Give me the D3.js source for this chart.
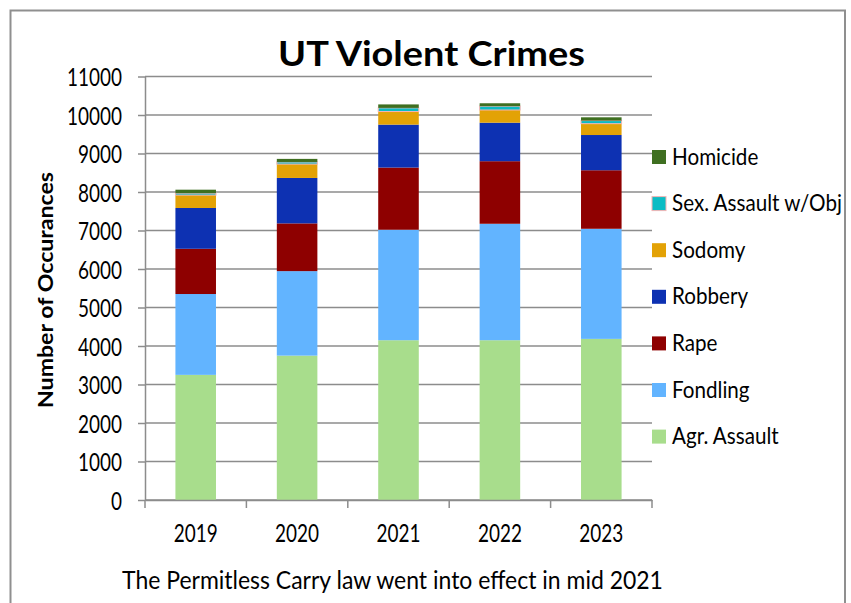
<!DOCTYPE html>
<html>
<head>
<meta charset="utf-8">
<script src="https://cdn.jsdelivr.net/npm/d3@7"></script>
<style>
  body { margin: 0; background: #fff; }
  svg { display: block; font-family: Lato, "Open Sans", sans-serif; }
</style>
</head>
<body>
<div id="chart"></div>
<script>
// values
const years = ["2019", "2020", "2021", "2022", "2023"];
const seriesNames = ["Agr. Assault", "Fondling", "Rape", "Robbery", "Sodomy", "Sex. Assault w/Obj", "Homicide"];
const agrAssault = [3250, 3750, 4150, 4150, 4185];
const fondling   = [2100, 2195, 2870, 3025, 2860];
const rape       = [1175, 1240, 1615, 1625, 1520];
const robbery    = [1060, 1180, 1115, 1000, 915];
const sodomy     = [335, 360, 340, 330, 295];
const sexAssault = [50, 55, 95, 100, 80];
const homicide   = [90, 80, 90, 75, 85];
const yTicks = [0, 1000, 2000, 3000, 4000, 5000, 6000, 7000, 8000, 9000, 10000, 11000];

const colors = ["#a8dd8c", "#62b4ff", "#8e0000", "#0d31b2", "#e3a206", "#0bbcc4", "#3f6f21"];

const W = 851, H = 603;
const plotLeft = 145, plotRight = 652, plotTop = 76.5, plotBottom = 500;
const GRID = "#8c8c8c";
const TICK_FONT = 25;
const LEGEND_FONT = 24;

// the original is squeezed horizontally, so text gets scaled in x
const squeeze = (sel, sx) => {
    const tx = +sel.attr("x") || 0, ty = +sel.attr("y") || 0;
    sel.attr("x", 0).attr("y", 0)
       .attr("transform", `translate(${tx},${ty}) scale(${sx},1)`);
};
const fit = (sel, width) => squeeze(sel, width / sel.node().getComputedTextLength());

// ratio that makes a sample string as wide as in the picture
const ratioFor = (str, size, weight, width) => {
    const t = svg.append("text").attr("font-size", size).attr("font-weight", weight).text(str);
    const r = width / t.node().getComputedTextLength();
    t.remove();
    return r;
};

const svg = d3.select("#chart").append("svg")
    .attr("width", W)
    .attr("height", H);

svg.append("rect")
    .attr("x", 10.5).attr("y", 10.5)
    .attr("width", 834.5).attr("height", 620)
    .attr("fill", "none")
    .attr("stroke", "#8f8f8f")
    .attr("stroke-width", 2);

const x = d3.scaleBand()
    .domain(years)
    .range([plotLeft, plotRight])
    .paddingInner(0.6)
    .paddingOuter(0.3);

const y = d3.scaleLinear()
    .domain([0, 11000])
    .range([plotBottom, plotTop]);

// gridlines
svg.append("g")
    .selectAll("line")
    .data(yTicks)
    .enter().append("line")
    .attr("x1", plotLeft).attr("x2", plotRight)
    .attr("y1", d => y(d)).attr("y2", d => y(d))
    .attr("stroke", GRID)
    .attr("stroke-width", 1.5);

// stacked bars
const table = years.map((yr, i) => ({
    year: yr,
    "Agr. Assault": agrAssault[i],
    "Fondling": fondling[i],
    "Rape": rape[i],
    "Robbery": robbery[i],
    "Sodomy": sodomy[i],
    "Sex. Assault w/Obj": sexAssault[i],
    "Homicide": homicide[i]
}));
const stacked = d3.stack().keys(seriesNames)(table);

svg.append("g")
    .selectAll("g")
    .data(stacked)
    .enter().append("g")
    .attr("fill", (d, i) => colors[i])
    .attr("stroke", d => d.key === "Sex. Assault w/Obj" ? "#f4b4b4" : "none")
    .attr("stroke-width", 1)
    .selectAll("rect")
    .data(d => d)
    .enter().append("rect")
    .attr("x", d => x(d.data.year))
    .attr("width", x.bandwidth())
    .attr("y", d => y(d[1]))
    .attr("height", d => y(d[0]) - y(d[1]));

const tickRatio = ratioFor("11000", TICK_FONT, "normal", 55);

// y axis
const yAxis = svg.append("g")
    .attr("transform", `translate(${plotLeft},0)`)
    .call(d3.axisLeft(y).tickValues(yTicks).tickFormat(d3.format("d"))
        .tickSize(7).tickPadding(16).tickSizeOuter(0));
yAxis.select(".domain").attr("stroke", GRID).attr("stroke-width", 1.5);
yAxis.selectAll(".tick line").attr("stroke", GRID).attr("stroke-width", 1.5);
yAxis.selectAll(".tick text")
    .attr("font-family", "Lato").attr("font-size", TICK_FONT).attr("fill", "#000")
    .attr("dy", "0.36em")
    .each(function () { squeeze(d3.select(this), tickRatio); });

// x axis: labels under bars, ticks at category boundaries
const xAxis = svg.append("g")
    .attr("transform", `translate(0,${plotBottom})`)
    .call(d3.axisBottom(x).tickSize(0).tickSizeOuter(0));
xAxis.select(".domain").attr("stroke", GRID).attr("stroke-width", 1.5);
xAxis.selectAll(".tick text")
    .attr("font-family", "Lato").attr("font-size", TICK_FONT).attr("fill", "#000")
    .attr("dy", "0.36em")
    .attr("x", 0).attr("y", 0)
    .attr("transform", `translate(0,33) scale(${tickRatio},1)`);
const bounds = d3.scaleLinear().domain([0, years.length]).range([plotLeft, plotRight]);
xAxis.selectAll(".bound")
    .data(d3.range(years.length + 1))
    .enter().append("line")
    .attr("class", "bound")
    .attr("x1", d => bounds(d)).attr("x2", d => bounds(d))
    .attr("y1", 0).attr("y2", 8)
    .attr("stroke", GRID)
    .attr("stroke-width", 1.5);

// legend, top entry is the top of the stack
const legendRatio = ratioFor("Sex. Assault w/Obj", LEGEND_FONT, "normal", 170);
const legend = svg.append("g")
    .selectAll("g")
    .data(seriesNames.slice().reverse())
    .enter().append("g")
    .attr("transform", (d, i) => `translate(652,${164.5 + i * 46.6})`);
legend.append("rect")
    .attr("x", 0).attr("y", -14.5)
    .attr("width", 14).attr("height", 14)
    .attr("fill", d => colors[seriesNames.indexOf(d)])
    .attr("stroke", d => d === "Sex. Assault w/Obj" ? "#f4b4b4" : "none")
    .attr("stroke-width", 1);
legend.append("text")
    .attr("x", 20).attr("y", 0)
    .attr("font-size", LEGEND_FONT)
    .text(d => d)
    .each(function () { squeeze(d3.select(this), legendRatio); });

// title
svg.append("text")
    .attr("x", 431.5).attr("y", 66)
    .attr("text-anchor", "middle")
    .attr("font-size", 33.5)
    .attr("font-weight", "bold")
    .text("UT Violent Crimes")
    .call(fit, 307);

// y axis label
const yl = svg.append("g").attr("transform", "translate(52.5,290) rotate(-90)");
yl.append("text")
    .attr("x", 0).attr("y", 0)
    .attr("text-anchor", "middle")
    .attr("font-size", 21)
    .attr("font-weight", "bold")
    .text("Number of Occurances")
    .call(fit, 236);

// footnote
svg.append("text")
    .attr("x", 392.5).attr("y", 589)
    .attr("text-anchor", "middle")
    .attr("font-size", 25)
    .text("The Permitless Carry law went into effect in mid 2021")
    .call(fit, 541);
</script>
</body>
</html>
